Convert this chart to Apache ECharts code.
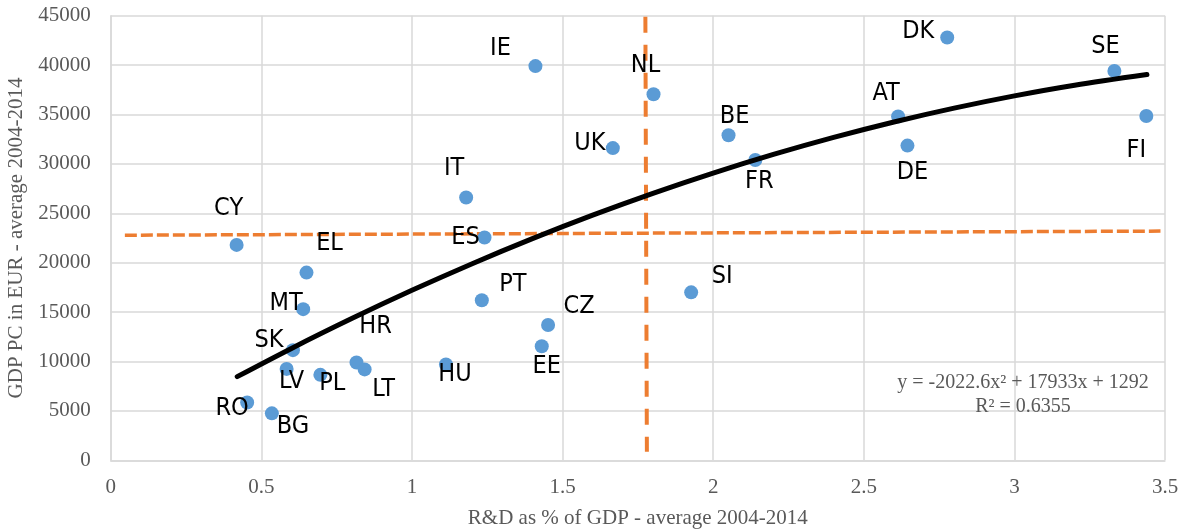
<!DOCTYPE html>
<html>
<head>
<meta charset="utf-8">
<script src="https://cdn.jsdelivr.net/npm/echarts@6/dist/echarts.min.js"></script>
<style>
html,body{margin:0;padding:0;background:#fff;}
#chart{width:1181px;height:531px;}
</style>
</head>
<body>
<div id="chart"></div>
<script>
// ---- data ----
var countries = ['CY','EL','MT','SK','LV','PL','HR','LT','HU','RO','BG','IE','NL','UK','BE','FR','IT','ES','PT','CZ','EE','SI','DK','SE','AT','DE','FI'];
var rdShare   = [0.418,0.650,0.639,0.605,0.584,0.696,0.816,0.843,1.113,0.453,0.535,1.410,1.802,1.667,2.051,2.140,1.180,1.241,1.232,1.452,1.431,1.927,2.777,3.332,2.614,2.645,3.438];
var gdpPc     = [21800,19000,15300,11150,9250,8650,9900,9200,9700,5850,4750,39900,37050,31600,32900,30400,26600,22550,16200,13700,11550,17000,42800,39400,34800,31850,34850];

// trend line (polynomial fit shown on chart)
var trendX = [0.42,0.6,0.8,1.0,1.2,1.4,1.6,1.8,2.0,2.2,2.4,2.6,2.8,3.0,3.2,3.44];
var trendY = [8467,11324,14344,17202,19899,22434,24807,27018,29068,30955,32681,34245,35647,36888,37966,39047];

// average reference lines
var avgGdpLine = [[0.047,22780],[3.485,23200]];
var avgRdLine  = [[1.775,44900],[1.780,870]];

var xTicks = {min:0, max:3.5, interval:0.5};
var yTicks = {min:0, max:45000, interval:5000};

var equationText = 'y = -2022.6x\u00B2 + 17933x + 1292';
var r2Text = 'R\u00B2 = 0.6355';

// ---- presentation: label offsets from point centre (px) ----
var labelOffsets = {
  CY:[-8,-36], EL:[23,-29], MT:[-17,-6], SK:[-24,-10], LV:[5,13], PL:[12,9],
  HR:[19,-36], LT:[19,20], HU:[9,10], RO:[-15,6], BG:[21,13], IE:[-35,-18],
  NL:[-8,-29], UK:[-23,-5], BE:[6,-19], FR:[4,22], IT:[-12,-29], ES:[-19,0],
  PT:[31,-16], CZ:[31,-18], EE:[5,20], SI:[31,-16], DK:[-29,-6], SE:[-9,-25],
  AT:[-12,-23], DE:[5,27], FI:[-10,35]
};

var SYM = 14;
var scatterData = countries.map(function(c,i){
  var o = labelOffsets[c];
  return {name:c, value:[rdShare[i], gdpPc[i]],
          label:{position:[SYM/2 + o[0], SYM/2 + o[1]]}};
});
var trendData = trendX.map(function(x,i){ return [x, trendY[i]]; });

var serif = "'Liberation Serif','Times New Roman',serif";
var labelFont = "'Liberation Sans Narrow','DejaVu Sans Condensed','Liberation Sans',sans-serif";
var gray = '#595959';
var gridColor = '#d9d9d9';

var chart = echarts.init(document.getElementById('chart'), null, {renderer:'canvas'});
chart.setOption({
  animation:false,
  backgroundColor:'#fff',
  grid:{left:110.7, right:16, top:15.7, bottom:70.7, containLabel:false, outerBoundsMode:'none'},
  xAxis:{
    type:'value', min:xTicks.min, max:xTicks.max, interval:xTicks.interval,
    name:'R&D as % of GDP - average 2004-2014', nameLocation:'middle', nameGap:48,
    nameTextStyle:{fontFamily:serif, fontSize:21, color:gray},
    axisLine:{show:true, lineStyle:{color:gridColor, width:1.5}},
    axisTick:{show:false},
    axisLabel:{fontFamily:serif, fontSize:21, color:gray, margin:17, formatter:function(v){return String(v);}},
    splitLine:{show:true, lineStyle:{color:gridColor, width:1.5}}
  },
  yAxis:{
    type:'value', min:yTicks.min, max:yTicks.max, interval:yTicks.interval,
    name:'GDP PC in EUR - average 2004-2014', nameLocation:'middle', nameGap:80,
    nameTextStyle:{fontFamily:serif, fontSize:21, color:gray},
    axisLine:{show:true, lineStyle:{color:gridColor, width:1.5}},
    axisTick:{show:false},
    axisLabel:{fontFamily:serif, fontSize:21, color:gray, margin:20, formatter:function(v){return String(v);}},
    splitLine:{show:true, lineStyle:{color:gridColor, width:1.5}}
  },
  series:[
    {
      type:'line', data:avgGdpLine, symbol:'none', z:1, silent:true,
      lineStyle:{color:'#ED7D31', width:3.5, type:[12,4]}
    },
    {
      type:'line', data:avgRdLine, symbol:'none', z:1, silent:true,
      lineStyle:{color:'#ED7D31', width:4, type:[16,12]}
    },
    {
      type:'scatter', data:scatterData, symbol:'circle', symbolSize:SYM, z:3,
      itemStyle:{color:'#5B9BD5', opacity:1},
      label:{show:true, formatter:'{b}', color:'#000',
             fontFamily:labelFont, fontSize:25, align:'center', verticalAlign:'middle'},
      labelLayout:{hideOverlap:false}
    },
    {
      type:'line', data:trendData, symbol:'none', smooth:0.3, z:4, silent:true,
      lineStyle:{color:'#000', width:5, cap:'round'}
    }
  ],
  graphic:[
    {type:'text', x:1023, y:383, z:10,
     style:{text:equationText, font:"20px 'Liberation Serif', serif", fill:gray, align:'center', verticalAlign:'middle'}},
    {type:'text', x:1023, y:407, z:10,
     style:{text:r2Text, font:"20px 'Liberation Serif', serif", fill:gray, align:'center', verticalAlign:'middle'}}
  ]
});
</script>
</body>
</html>
